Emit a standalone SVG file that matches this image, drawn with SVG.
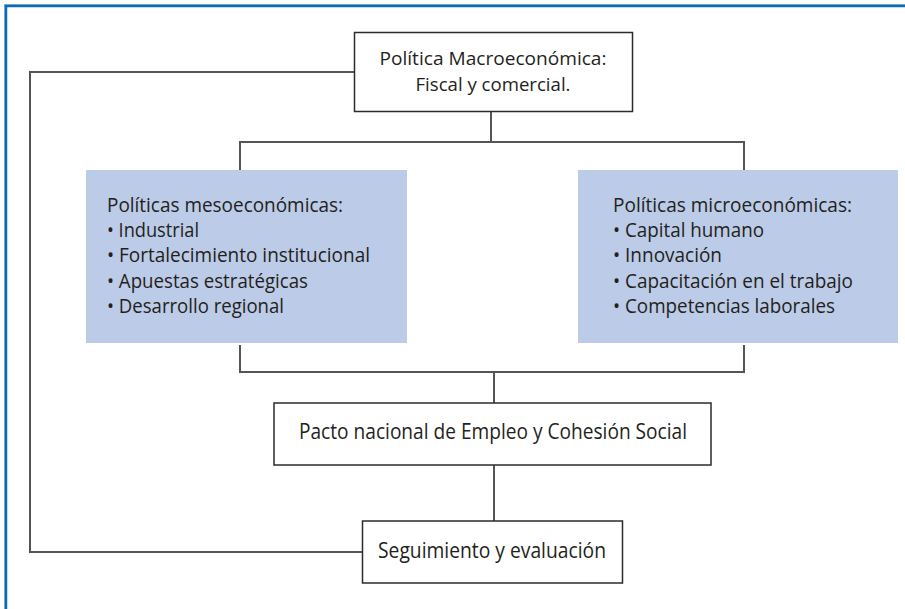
<svg xmlns="http://www.w3.org/2000/svg" width="905" height="609" viewBox="0 0 905 609">
<style>
.t{font-family:"Open Sans","Liberation Sans",sans-serif;font-size:20px;fill:#231f20}
.tc{font-size:21px}
.tm{font-size:19px}
.box{fill:#fff;stroke:#2b2b2b;stroke-width:1.5}
.blue{fill:#bccbe7;stroke:none}
.c{fill:none;stroke:#555;stroke-width:2}
</style>
<rect x="0" y="0" width="905" height="609" fill="#fff"/>
<rect x="4.5" y="4.5" width="910" height="620" fill="none" stroke="#8dbbe0" stroke-width="1"/>
<rect x="6" y="6" width="910" height="620" fill="none" stroke="#0b6bb5" stroke-width="2.5"/>
<g id="connectors">
<path class="c" d="M355,72 H30 V552 H363"/>
<path class="c" d="M491,112 V142"/>
<path class="c" d="M240,170 V142 H744 V170"/>
<path class="c" d="M240,345 V372 H744 V345"/>
<path class="c" d="M494,372 V403"/>
<path class="c" d="M494,465 V521"/>
</g>
<g id="macro">
<rect class="box" x="354.5" y="32.5" width="278" height="79"/>
<text class="t tm" x="493" y="65" text-anchor="middle" textLength="227" lengthAdjust="spacingAndGlyphs">Política Macroeconómica:</text>
<text class="t tm" x="493" y="91" text-anchor="middle" textLength="155" lengthAdjust="spacingAndGlyphs">Fiscal y comercial.</text>
</g>
<g id="meso">
<rect class="blue" x="86" y="170" width="321" height="173"/>
<text class="t" x="107" y="212" textLength="236" lengthAdjust="spacingAndGlyphs">Políticas mesoeconómicas:</text>
<text class="t" x="107" y="237" textLength="92" lengthAdjust="spacingAndGlyphs">• Industrial</text>
<text class="t" x="107" y="262" textLength="263" lengthAdjust="spacingAndGlyphs">• Fortalecimiento institucional</text>
<text class="t" x="107" y="288" textLength="201" lengthAdjust="spacingAndGlyphs">• Apuestas estratégicas</text>
<text class="t" x="107" y="313" textLength="177" lengthAdjust="spacingAndGlyphs">• Desarrollo regional</text>
</g>
<g id="micro">
<rect class="blue" x="578" y="170" width="320" height="173"/>
<text class="t" x="613" y="212" textLength="239" lengthAdjust="spacingAndGlyphs">Políticas microeconómicas:</text>
<text class="t" x="613" y="237" textLength="151" lengthAdjust="spacingAndGlyphs">• Capital humano</text>
<text class="t" x="613" y="262" textLength="109" lengthAdjust="spacingAndGlyphs">• Innovación</text>
<text class="t" x="613" y="288" textLength="240" lengthAdjust="spacingAndGlyphs">• Capacitación en el trabajo</text>
<text class="t" x="613" y="313" textLength="222" lengthAdjust="spacingAndGlyphs">• Competencias laborales</text>
</g>
<g id="pacto">
<rect class="box" x="274" y="403" width="437" height="62"/>
<text class="t tc" x="299" y="439" textLength="388" lengthAdjust="spacingAndGlyphs">Pacto nacional de Empleo y Cohesión Social</text>
</g>
<g id="seguimiento">
<rect class="box" x="362.5" y="521" width="260" height="62"/>
<text class="t tc" x="378" y="558" textLength="228" lengthAdjust="spacingAndGlyphs">Seguimiento y evaluación</text>
</g>
</svg>
